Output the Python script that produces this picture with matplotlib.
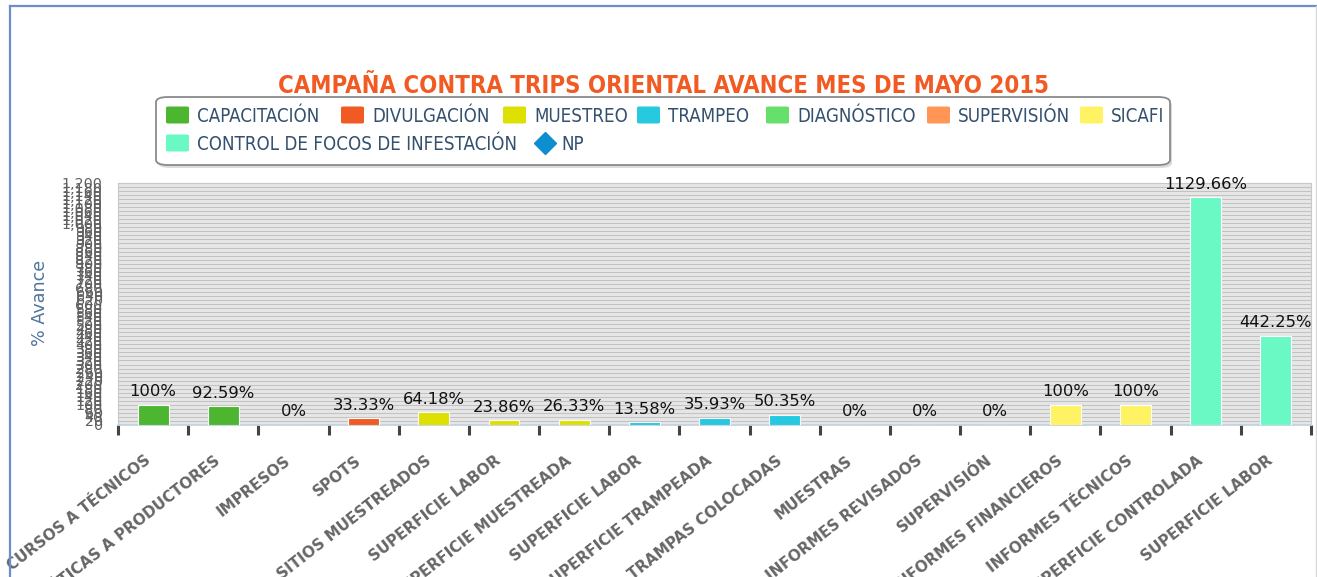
import matplotlib
matplotlib.use("Agg")
import matplotlib.pyplot as plt
from matplotlib import font_manager
from matplotlib.patches import FancyBboxPatch
from matplotlib.lines import Line2D
from matplotlib.ticker import FuncFormatter, MultipleLocator, FixedLocator

# ---------------- data ----------------
title = "CAMPAÑA CONTRA TRIPS ORIENTAL AVANCE MES DE MAYO 2015"
y_title = "% Avance"
series_names = ["CAPACITACIÓN", "DIVULGACIÓN", "MUESTREO", "TRAMPEO", "DIAGNÓSTICO",
                "SUPERVISIÓN", "SICAFI", "CONTROL DE FOCOS DE INFESTACIÓN", "NP"]
series_colors = ["#4cb630", "#f15a22", "#dde000", "#26c9e0", "#66e06b",
                 "#ff9655", "#fff263", "#6af9c4", "#0d8ecf"]
categories = ["CURSOS A TÉCNICOS", "PLÁTICAS A PRODUCTORES", "IMPRESOS", "SPOTS",
              "SITIOS MUESTREADOS", "SUPERFICIE LABOR", "SUPERFICIE MUESTREADA",
              "SUPERFICIE LABOR", "SUPERFICIE TRAMPEADA", "TRAMPAS COLOCADAS",
              "MUESTRAS", "INFORMES REVISADOS", "SUPERVISIÓN", "INFORMES FINANCIEROS",
              "INFORMES TÉCNICOS", "SUPERFICIE CONTROLADA", "SUPERFICIE LABOR"]
values = [100, 92.59, 0, 33.33, 64.18, 23.86, 26.33, 13.58, 35.93, 50.35,
          0, 0, 0, 100, 100, 1129.66, 442.25]
value_labels = ["100%", "92.59%", "0%", "33.33%", "64.18%", "23.86%", "26.33%",
                "13.58%", "35.93%", "50.35%", "0%", "0%", "0%", "100%", "100%",
                "1129.66%", "442.25%"]
category_series = [0, 0, 1, 1, 2, 2, 2, 3, 3, 3, 4, 4, 5, 6, 6, 7, 7]
y_max = 1200
y_step = 20

# ---------------- fonts ----------------
available = {f.name for f in font_manager.fontManager.ttflist}
dejavu_condensed = any(f.name == "DejaVu Sans" and "ondensed" in f.fname
                       for f in font_manager.fontManager.ttflist)
if dejavu_condensed:
    narrow = dict(family="DejaVu Sans", fontstretch="condensed")
elif "Liberation Sans Narrow" in available:
    narrow = dict(family="Liberation Sans Narrow")
else:
    narrow = dict(family="DejaVu Sans")

# ---------------- figure ----------------
W, H, DPI = 1317, 577, 100
fig = plt.figure(figsize=(W / DPI, H / DPI), dpi=DPI)
fig.patch.set_facecolor("white")
fig.canvas.draw()
renderer = fig.canvas.get_renderer()


def fx(px):
    return px / W


def fy(py):
    return 1 - py / H


def text_width(text, size, **kw):
    t = fig.text(0, 0, text, fontsize=size, **kw)
    w = t.get_window_extent(renderer).width
    t.remove()
    return w


# outer frame
fig.add_artist(Line2D([fx(9.5), fx(9.5)], [0, fy(5.5)], color="#6b8fc7", lw=1.6))
fig.add_artist(Line2D([fx(9.5), fx(1316)], [fy(5.5), fy(5.5)], color="#6b8fc7", lw=1.6))
fig.add_artist(Line2D([fx(1316), fx(1316)], [0, fy(5.5)], color="#d8d8d8", lw=1.0))

ax_l, ax_r, ax_t, ax_b = 118, 1311, 183, 425
ax = fig.add_axes([fx(ax_l), fy(ax_b), fx(ax_r - ax_l), (ax_b - ax_t) / H])
ax.set_facecolor("#e6e6e6")

n = len(categories)
xs = list(range(n))
bar_colors = [series_colors[s] for s in category_series]
ax.bar(xs, values, width=0.44, color=bar_colors, edgecolor="white", linewidth=0.8, zorder=3)

for x, v, lab in zip(xs, values, value_labels):
    ax.annotate(lab, (x, v), xytext=(0, 4), textcoords="offset points",
                ha="center", va="bottom", fontsize=11.8, color="#111111",
                family="DejaVu Sans", zorder=5, clip_on=False)

ax.set_xlim(-0.5, n - 0.5)
ax.set_ylim(0, y_max)

# y axis
ax.yaxis.set_major_locator(MultipleLocator(y_step))
ax.yaxis.set_major_formatter(FuncFormatter(lambda v, p: f"{int(round(v)):,}"))
ax.tick_params(axis="y", length=0, pad=11, labelsize=10.3, labelcolor="#606060")
ax.grid(axis="y", color="#c2c2c2", lw=0.75, zorder=1)
ax.set_axisbelow(True)

# x axis
ax.set_xticks(xs)
ax.set_xticklabels(categories, rotation=38, ha="right", va="top",
                   fontsize=10.9, fontweight="bold", color="#666666")
ax.tick_params(axis="x", which="major", length=0, pad=20)
ax.xaxis.set_minor_locator(FixedLocator([i - 0.5 for i in range(n + 1)]))
ax.tick_params(axis="x", which="minor", length=7, width=2.2, color="#444444", direction="out")

for side in ["top", "left", "right"]:
    ax.spines[side].set_color("#c8c8c8")
    ax.spines[side].set_linewidth(0.8)
ax.spines["bottom"].set_color("#c0d0e0")
ax.spines["bottom"].set_linewidth(1.2)

# y title
fig.text(fx(40), fy(303), y_title, rotation=90, ha="center", va="center",
         fontsize=12.6, color="#4d759e", family="DejaVu Sans")

# title
title_fs = 10 * 768 / text_width(title, 10, fontweight="bold", **narrow)
fig.text(fx(664), fy(86), title, ha="center", va="center", fontsize=title_fs,
         fontweight="bold", color="#f15a22", **narrow)

# legend box
box = FancyBboxPatch((fx(156), fy(165)), fx(1170 - 156), (165 - 97) / H,
                     boxstyle="round,pad=0,rounding_size=0.009",
                     transform=fig.transFigure, facecolor="white",
                     edgecolor="#8a8a8a", lw=1.3, zorder=2)
shadow = FancyBboxPatch((fx(158), fy(168)), fx(1170 - 156), (165 - 97) / H,
                        boxstyle="round,pad=0,rounding_size=0.009",
                        transform=fig.transFigure, facecolor="#dcdcdc",
                        edgecolor="none", zorder=1)
fig.add_artist(shadow)
fig.add_artist(box)

# legend entries laid out like the reference (two rows)
legend_x = [166, 341, 503, 637, 766, 927, 1080, 166, 535]
legend_row = [0, 0, 0, 0, 0, 0, 0, 1, 1]
row_y = [115, 143]
row1_ref_width = 701.0
row1_width10 = sum(text_width(s, 10, **narrow) for s, r in zip(series_names, legend_row) if r == 0)
leg_fs = 10 * row1_ref_width / row1_width10
leg_color = "#33506e"
for name, col, lx, r in zip(series_names, series_colors, legend_x, legend_row):
    y = row_y[r]
    if name == "NP":
        fig.add_artist(Line2D([fx(lx + 10)], [fy(y)], marker="D", markersize=11,
                              color=col, transform=fig.transFigure, zorder=4))
        tx = lx + 26
    else:
        fig.add_artist(FancyBboxPatch((fx(lx), fy(y + 8.5)), fx(23), 17 / H,
                                      boxstyle="round,pad=0,rounding_size=0.002",
                                      transform=fig.transFigure, facecolor=col,
                                      edgecolor="none", zorder=4))
        tx = lx + 31
    fig.text(fx(tx), fy(y), name, fontsize=leg_fs, color=leg_color,
             va="center_baseline", ha="left", zorder=4, **narrow)

fig.savefig("out.png", dpi=DPI, facecolor="white")
